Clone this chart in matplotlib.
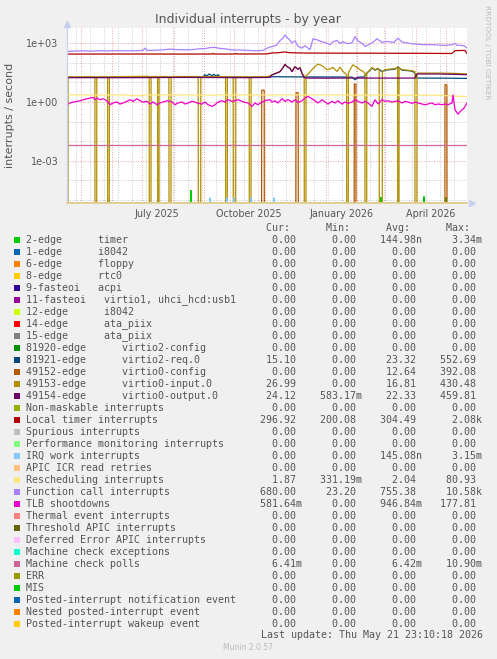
#!/usr/bin/env python3
"""
Munin "Individual interrupts - by year" graph, redrawn with matplotlib.

Log-scale y axis, one line per interrupt source, rrdtool-style legend table
(Cur / Min / Avg / Max) under the plot. Values were read off the original png.
"""
import matplotlib
matplotlib.use("Agg")
import matplotlib.pyplot as plt
from matplotlib.lines import Line2D
from matplotlib.patches import Rectangle
import numpy as np
import pandas as pd

W, H = 497, 659                      # output size in pixels (dpi 100)
START = pd.Timestamp("2025-04-16 23:10")
SPAN_DAYS = 400
YMIN, YMAX = 7e-6, 6e3

BG = "#F0F0F0"
TEXT = "#555555"
AXIS_C = "#C8D0F0"
GRID_MINOR = "#C8C8C8"
GRID_MAJOR = "#F0A0A0"

# ---- series: (day since START, interrupts/s), 0 means counter at zero ----
FUNCTION_CALL = [
    (0, 380), (8, 400), (16, 410), (24, 395), (32, 415), (40, 405), (48, 420), (56, 410),
    (64, 415), (72, 420), (76, 430), (78, 570), (80, 430), (88, 440), (96, 460), (103, 505),
    (110, 470), (118, 460), (126, 475), (132, 520), (138, 530), (143, 600), (148, 615),
    (153, 540), (158, 520), (165, 455), (172, 450), (178, 440), (185, 420), (191, 414),
    (196, 430), (200, 560), (203, 640), (206, 700), (209, 775), (211, 1000), (213, 1350),
    (216, 1800), (218, 2700), (220, 2000), (222, 1600), (225, 1030), (228, 1350), (231, 690),
    (235, 570), (238, 750), (243, 465), (246, 1700), (250, 1500), (253, 1300), (256, 1150),
    (260, 1000), (263, 850), (266, 1200), (270, 1400), (273, 1000), (276, 1200), (280, 950),
    (285, 1050), (288, 2200), (291, 1300), (295, 1000), (298, 690), (305, 1030), (310, 1700),
    (315, 1100), (320, 1250), (327, 1100), (331, 1830), (335, 1150), (345, 940), (355, 850),
    (365, 850), (378, 775), (386, 850), (388, 1000), (390, 800), (397, 750), (400, 570),
]
LOCAL_TIMER = [
    (0, 280), (60, 282), (120, 280), (145, 282), (146, 300), (147, 282), (168, 282),
    (169, 300), (170, 282), (200, 285), (205, 320), (210, 325), (215, 345), (218, 360),
    (222, 330), (240, 315), (270, 312), (300, 310), (330, 308), (360, 305), (385, 300),
    (388, 420), (398, 430), (400, 300),
]
VIRTIO0_INPUT = [
    (0, 0), (1, 0), (1.1, 19), (15, 19.5), (27.9, 19.5), (28, 0), (29.7, 0), (29.8, 19.5),
    (40.6, 19.5), (40.7, 0), (42.3, 0), (42.4, 19.5), (60, 20), (76, 20.5), (82.2, 20.5),
    (82.3, 0), (84, 0), (84.1, 20), (90.6, 20), (90.7, 0), (92, 0), (92.1, 20), (101.9, 20),
    (102, 0), (104, 0), (104.1, 20), (120, 20), (131.2, 20), (131.3, 0), (133.7, 0),
    (133.8, 19.5), (145, 20), (158.6, 20), (158.7, 0), (160.3, 0), (160.4, 19.5),
    (166.2, 19.5), (166.3, 0), (168.7, 0), (168.8, 19.5), (182.2, 19.5), (182.3, 0), (184, 0),
    (184.1, 19.5), (195, 19.5), (201, 20), (205, 24.7), (209, 30), (213, 36.5), (216, 58),
    (218, 86), (220, 66), (223, 54), (225, 36.5), (228, 66), (231, 48), (233, 58), (235, 30),
    (237.2, 21), (237.3, 0), (239, 0), (239.1, 22), (241, 26.7), (245, 44.5), (248, 66),
    (251, 86), (253, 80), (256, 66), (260, 44.5), (263, 50), (266, 58), (270, 36.5),
    (273, 60), (276, 36.5), (279.6, 24.7), (279.7, 0), (281.3, 0), (281.4, 30), (283, 44.5),
    (286, 80), (290, 58), (293, 44.5), (296, 36.5), (297.9, 30), (298, 0), (299.7, 0),
    (299.8, 30), (303, 44), (305, 58), (308, 44.5), (311, 54), (312.2, 40), (312.3, 0),
    (315.3, 0), (315.4, 38), (318, 44.5), (323, 48), (328, 50), (330.6, 60), (330.7, 0),
    (332, 0), (332.1, 55), (335, 44.5), (343, 41), (347.9, 36.5), (348, 0), (350, 0),
    (350.1, 30), (353, 30), (373, 30), (388, 29), (400, 27),
]
VIRTIO0_OUTPUT = [
    (0, 17.5), (60, 17.5), (120, 18), (180, 17.5), (203, 18), (205, 24), (209, 29),
    (213, 35), (216, 56), (218, 84), (220, 64), (223, 52), (225, 35), (228, 64), (231, 46),
    (233, 56), (235, 29), (237, 18), (240, 16.7), (260, 16.5), (280, 16.8), (300, 16.7),
    (330, 16.7), (348, 16.7), (350, 27), (370, 27), (400, 25),
]
VIRTIO2_REQ = [
    (0, 18.5), (60, 18.5), (120, 19), (136, 19), (138, 25), (140, 21), (142, 27), (145, 22),
    (147, 26), (149, 21), (151, 25), (153, 19), (200, 18.5), (205, 19.5), (240, 19),
    (270, 19), (285, 18.5), (288, 13.7), (291, 18.5), (297, 19), (300, 30), (303, 42),
    (305, 55), (308, 42), (311, 50), (315, 36), (318, 42), (323, 45), (328, 47), (331, 62),
    (335, 42), (343, 39), (347, 34), (350, 16.7), (380, 16.5), (400, 16),
]
VIRTIO0_CONFIG = [
    (0, 0), (194.6, 0), (194.7, 4), (197.2, 4), (197.3, 0), (228.9, 0), (229, 3),
    (231.2, 3), (231.3, 0), (287.2, 0), (287.3, 8.3), (288.9, 8.3), (289, 0), (377.9, 0),
    (378, 7.6), (379.9, 7.6), (380, 0), (400, 0),
]
RESCHEDULING = [
    (0, 2.3), (40, 2.3), (60, 2.3), (65, 2.1), (72, 2.1), (80, 2.3), (140, 2.3), (145, 2.2),
    (150, 2.3), (200, 2.3), (260, 2.3), (320, 2.25), (370, 2.2), (380, 2.1), (400, 1.9),
]
TLB_SHOOTDOWNS = [
    (0, 0.73), (3, 0.89), (6, 1.0), (10, 1.08), (13, 1.16), (16, 1.31), (20, 1.47),
    (23, 1.59), (26, 1.72), (28, 1.31), (30, 1.59), (33, 1.31), (36, 1.47), (40, 1.16),
    (43, 0.73), (46, 0.89), (50, 1.0), (53, 0.79), (56, 0.89), (60, 1.08), (63, 1.31),
    (66, 1.08), (70, 1.47), (73, 1.16), (76, 1.0), (80, 1.08), (83, 0.79), (86, 1.0),
    (90, 0.73), (93, 0.89), (96, 1.0), (100, 1.16), (103, 1.08), (105, 1.0), (108, 0.73),
    (111, 0.89), (115, 1.0), (118, 0.79), (121, 0.89), (125, 1.08), (128, 1.0), (131, 0.85),
    (135, 0.79), (138, 1.0), (141, 0.73), (145, 0.6), (148, 0.73), (151, 1.0), (155, 1.16),
    (158, 1.0), (161, 1.31), (165, 1.08), (168, 1.16), (171, 1.31), (175, 1.08), (178, 0.95),
    (181, 0.89), (185, 0.6), (188, 0.89), (191, 0.73), (195, 1.0), (198, 1.16), (203, 1.31),
    (205, 1.0), (208, 1.16), (211, 0.89), (215, 1.47), (218, 1.08), (221, 1.31), (225, 1.0),
    (228, 1.31), (231, 0.95), (235, 1.16), (238, 1.59), (241, 1.94), (245, 1.47), (248, 1.16),
    (251, 0.89), (255, 1.31), (258, 1.0), (261, 0.79), (265, 1.08), (268, 0.89), (271, 1.16),
    (275, 0.79), (278, 1.0), (281, 0.85), (285, 1.0), (288, 1.31), (291, 1.08), (295, 0.89),
    (298, 1.08), (301, 0.89), (305, 0.6), (308, 1.31), (311, 0.79), (315, 1.31), (318, 1.08),
    (321, 1.16), (325, 1.0), (328, 1.08), (331, 1.16), (335, 0.89), (338, 1.08), (341, 1.0),
    (345, 0.85), (348, 1.0), (351, 0.89), (355, 0.79), (358, 0.73), (361, 0.79), (365, 0.89),
    (368, 0.73), (371, 0.79), (375, 0.73), (378, 0.79), (381, 0.73), (385, 0.89), (386, 2.36),
    (388, 0.4), (391, 0.24), (394, 0.36), (397, 0.49), (400, 0.89),
]
MC_POLLS = [(0, 6.41e-3), (400, 6.41e-3)]
TIMER_EDGE = [
    (0, 0), (123.5, 0), (124, 3.1e-5), (124.5, 0), (313.5, 0), (314, 1.4e-5), (314.5, 0),
    (356.5, 0), (357, 1.5e-5), (357.5, 0), (378.5, 0), (379, 1.4e-5), (379.5, 0), (400, 0),
]
IRQ_WORK = [
    (0, 0), (142.5, 0), (143, 1.3e-5), (143.5, 0), (159.5, 0), (160, 1.3e-5), (160.5, 0),
    (166.5, 0), (167, 1.3e-5), (167.5, 0), (183.5, 0), (184, 1.3e-5), (184.5, 0),
    (206.5, 0), (207, 1.3e-5), (207.5, 0), (400, 0),
]

# ---- legend table ----
LEGEND_LABELS = [
    "2-edge      timer", "1-edge      i8042", "6-edge      floppy", "8-edge      rtc0",
    "9-fasteoi   acpi", "11-fasteoi   virtio1, uhci_hcd:usb1", "12-edge      i8042",
    "14-edge      ata_piix", "15-edge      ata_piix", "81920-edge      virtio2-config",
    "81921-edge      virtio2-req.0", "49152-edge      virtio0-config",
    "49153-edge      virtio0-input.0", "49154-edge      virtio0-output.0",
    "Non-maskable interrupts", "Local timer interrupts", "Spurious interrupts",
    "Performance monitoring interrupts", "IRQ work interrupts", "APIC ICR read retries",
    "Rescheduling interrupts", "Function call interrupts", "TLB shootdowns",
    "Thermal event interrupts", "Threshold APIC interrupts", "Deferred Error APIC interrupts",
    "Machine check exceptions", "Machine check polls", "ERR", "MIS",
    "Posted-interrupt notification event", "Nested posted-interrupt event",
    "Posted-interrupt wakeup event",
]
LEGEND_COLORS = [
    "#00CC00", "#0066B3", "#FF8000", "#FFCC00", "#330099", "#990099", "#CCFF00", "#FF0000",
    "#808080", "#008F00", "#00487D", "#B35A00", "#B38F00", "#6B006B", "#8FB300", "#B30000",
    "#BEBEBE", "#80FF80", "#80C9FF", "#FFC080", "#FFE680", "#AA80FF", "#EE00CC", "#FF8080",
    "#666600", "#FFBFFF", "#00FFCC", "#CC6699", "#999900", "#00CC00", "#0066B3", "#FF8000",
    "#FFCC00",
]
Z = "0.00"
CUR = [Z, Z, Z, Z, Z, Z, Z, Z, Z, Z, "15.10", Z, "26.99", "24.12", Z, "296.92", Z, Z, Z, Z,
       "1.87", "680.00", "581.64m", Z, Z, Z, Z, "6.41m", Z, Z, Z, Z, Z]
MIN = [Z, Z, Z, Z, Z, Z, Z, Z, Z, Z, Z, Z, Z, "583.17m", Z, "200.08", Z, Z, Z, Z,
       "331.19m", "23.20", Z, Z, Z, Z, Z, Z, Z, Z, Z, Z, Z]
AVG = ["144.98n", Z, Z, Z, Z, Z, Z, Z, Z, Z, "23.32", "12.64", "16.81", "22.33", Z, "304.49",
       Z, Z, "145.08n", Z, "2.04", "755.38", "946.84m", Z, Z, Z, Z, "6.42m", Z, Z, Z, Z, Z]
MAX = ["3.34m", Z, Z, Z, Z, Z, Z, Z, Z, Z, "552.69", "392.08", "430.48", "459.81", Z, "2.08k",
       Z, Z, "3.15m", Z, "80.93", "10.58k", "177.81", Z, Z, Z, Z, "10.90m", Z, Z, Z, Z, Z]

X_LABELS = ["July 2025", "October 2025", "January 2026", "April 2026"]
X_LABEL_DATES = ["2025-07-16", "2025-10-16", "2026-01-16", "2026-04-16"]


def fx(x):
    return x / W


def fy(y):
    return 1 - y / H


def to_dates(days):
    return (START + pd.to_timedelta(np.asarray(days, dtype=float), unit="D")).to_numpy()


def cell(s):
    # rrdtool style: number right-aligned, then unit char (or blank)
    if s[-1].isalpha():
        return s[:-1].rjust(9) + s[-1]
    return s.rjust(9) + " "


def draw_graph(fig):
    ax = fig.add_axes([fx(67), fy(203), 400 / W, 175 / H])
    ax.set_facecolor("white")
    ax.set_yscale("log")
    ax.set_ylim(YMIN, YMAX)
    t0, t1 = to_dates([0, SPAN_DAYS])
    ax.set_xlim(t0, t1)

    # grid: gray every decade / two weeks, red at 1e-3 steps and month starts
    for e in range(-5, 4):
        major = e % 3 == 0
        ax.axhline(10.0 ** e, color=GRID_MAJOR if major else GRID_MINOR,
                   lw=0.7, ls=(0, (1, 1.6)), zorder=0.5)
    for d in pd.date_range("2025-04-26", periods=30, freq="14D"):
        ax.axvline(d, color=GRID_MINOR, lw=0.7, ls=(0, (1, 1.6)), zorder=0.5)
    for d in pd.date_range("2025-05-01", "2026-05-01", freq="MS"):
        ax.axvline(d, color=GRID_MAJOR, lw=0.7, ls=(0, (1, 1.6)), zorder=0.6)

    series = [
        (TIMER_EDGE, "#00CC00"),
        (VIRTIO2_REQ, "#00487D"),
        (VIRTIO0_CONFIG, "#B35A00"),
        (VIRTIO0_INPUT, "#B38F00"),
        (VIRTIO0_OUTPUT, "#6B006B"),
        (LOCAL_TIMER, "#B30000"),
        (IRQ_WORK, "#80C9FF"),
        (RESCHEDULING, "#FFE680"),
        (FUNCTION_CALL, "#AA80FF"),
        (TLB_SHOOTDOWNS, "#EE00CC"),
        (MC_POLLS, "#CC6699"),
    ]
    for pts, color in series:
        days, vals = zip(*pts)
        # like rrdtool, zero on a log axis sits on the bottom edge
        ax.plot(to_dates(days), np.maximum(vals, YMIN), color=color, lw=0.9,
                solid_joinstyle="miter", zorder=2)

    ax.yaxis.set_major_locator(plt.FixedLocator([1e-3, 1, 1e3]))
    ax.yaxis.set_major_formatter(plt.FixedFormatter(["1e-03", "1e+00", "1e+03"]))
    ax.yaxis.set_minor_locator(plt.NullLocator())
    ax.set_xticks(pd.to_datetime(X_LABEL_DATES))
    ax.set_xticklabels(X_LABELS)
    ax.tick_params(axis="both", length=0, labelsize=6.9, colors=TEXT)
    ax.tick_params(axis="y", pad=6)
    ax.tick_params(axis="x", pad=4)

    for side in ("top", "right"):
        ax.spines[side].set_visible(False)
    ax.spines["left"].set_color(AXIS_C)
    ax.spines["left"].set_linewidth(0.9)
    ax.spines["bottom"].set_color("#E3CF8E")
    ax.spines["bottom"].set_linewidth(1.3)

    # axis arrows
    fig.add_artist(Line2D([fx(67)], [fy(23.5)], marker="^", ms=4.5, color=AXIS_C,
                          transform=fig.transFigure))
    fig.add_artist(Line2D([fx(471.5)], [fy(203)], marker=">", ms=4.5, color=AXIS_C,
                          transform=fig.transFigure))
    return ax


def draw_texts(fig):
    fig.text(fx(248), fy(19), "Individual interrupts - by year", ha="center", va="center",
             fontsize=9, color=TEXT)
    fig.text(fx(10), fy(115), "interrupts / second", rotation=90, ha="center", va="center",
             fontsize=8, color=TEXT)
    fig.text(fx(487), fy(5), "RRDTOOL / TOBI OETIKER", rotation=270, ha="center", va="top",
             fontsize=5.3, color="#BBBBBB")

    mono = dict(family="DejaVu Sans Mono", fontsize=7.2, color=TEXT, va="center")
    header = " " * 36 + "".join("    %s  " % h for h in ("Cur:", "Min:", "Avg:", "Max:"))
    fig.text(fx(26), fy(228), header.rstrip(), ha="left", **mono)
    for i, label in enumerate(LEGEND_LABELS):
        yc = 240 + 12 * i
        fig.add_artist(Rectangle((fx(14), fy(yc + 3)), 6 / W, 6 / H,
                                 transform=fig.transFigure, color=LEGEND_COLORS[i], lw=0))
        row = label.ljust(36) + cell(CUR[i]) + cell(MIN[i]) + cell(AVG[i]) + cell(MAX[i])
        fig.text(fx(26), fy(yc), row.rstrip(), ha="left", **mono)
    fig.text(fx(483), fy(635), "Last update: Thu May 21 23:10:18 2026", ha="right", **mono)
    fig.text(fx(248), fy(648), "Munin 2.0.57", ha="center", va="center", fontsize=5.5,
             color="#BBBBBB")


def main():
    fig = plt.figure(figsize=(W / 100, H / 100), dpi=100, facecolor=BG)
    draw_graph(fig)
    draw_texts(fig)
    fig.savefig("out.png", dpi=100, facecolor=BG)


if __name__ == "__main__":
    main()
